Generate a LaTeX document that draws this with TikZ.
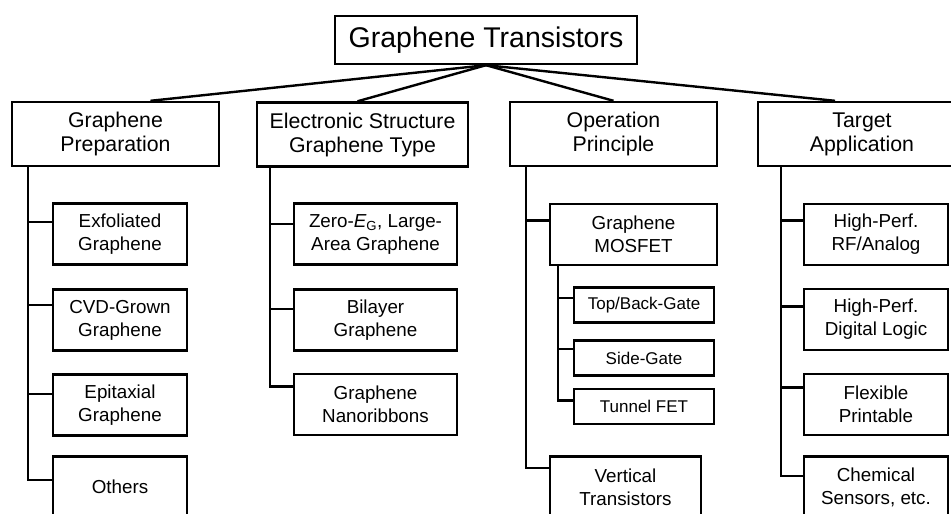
\documentclass[tikz,border=0pt]{standalone}
\usepackage{fontspec}
\setmainfont{Liberation Sans}

\begin{document}
\begin{tikzpicture}[x=1pt, y=-1pt,
  box/.style={draw, line width=2.4pt, align=center, inner sep=0pt},
  topbox/.style={box, minimum width=302pt, minimum height=48pt, font=\fontsize{28.5}{32}\selectfont},
  catbox/.style={box, minimum height=64pt, font=\fontsize{21.3}{24}\selectfont},
  itembox/.style={box, minimum height=61pt, font=\fontsize{18.8}{23}\selectfont},
  subbox/.style={box, minimum height=35pt, font=\fontsize{17}{18}\selectfont},
  link/.style={line width=2.4pt}]
\clip (0,0) rectangle (951,514);

% root and the four categories
\node[topbox] (root) at (486,40) {Graphene Transistors};
\node[catbox, minimum width=207pt] (prep) at (115.5,134) {Graphene\\Preparation};
\node[catbox, minimum width=211pt] (elec) at (362.5,134.5) {Electronic Structure\\Graphene Type};
\node[catbox, minimum width=207pt] (oper) at (613.5,134) {Operation\\Principle};
\node[catbox, minimum width=208pt] (targ) at (862,134) {Target\\Application};

% preparation
\node[itembox, minimum width=134pt] (exf) at (120,234) {Exfoliated\\Graphene};
\node[itembox, minimum width=134pt] (cvd) at (120,320) {CVD-Grown\\Graphene};
\node[itembox, minimum width=134pt] (epi) at (120,405) {Epitaxial\\Graphene};
\node[itembox, minimum width=134pt] (oth) at (120,487) {Others};

% graphene type
\node[itembox, minimum width=163pt] (zero) at (375.5,234) {Zero-{\itshape E}\textsubscript{G}, Large-\\Area Graphene};
\node[itembox, minimum width=163pt] (bil) at (375.5,320) {Bilayer\\Graphene};
\node[itembox, minimum width=163pt] (gnr) at (375.5,404.5) {Graphene\\Nanoribbons};

% operation principle
\node[itembox, minimum width=167pt] (mos) at (633.5,234.5) {Graphene\\MOSFET};
\node[subbox, minimum width=140pt] (tbg) at (644,305) {Top/Back-Gate};
\node[subbox, minimum width=140pt] (sg) at (644,358) {Side-Gate};
\node[subbox, minimum width=140pt] (tfet) at (644,406.5) {Tunnel FET};
\node[itembox, minimum width=151pt] (vert) at (625.5,487) {Vertical\\Transistors};

% applications
\node[itembox, minimum width=144pt] (rf) at (876,234.5) {High-Perf.\\RF/Analog};
\node[itembox, minimum width=144pt] (dig) at (876,319.5) {High-Perf.\\Digital Logic};
\node[itembox, minimum width=144pt] (flex) at (876,404.5) {Flexible\\Printable};
\node[itembox, minimum width=144pt] (chem) at (876,487) {Chemical\\Sensors, etc.};

% root to categories
\draw[link] (root.south) -- ([xshift=35pt]prep.north);
\draw[link] (root.south) -- ([xshift=-5pt]elec.north);
\draw[link] (root.south) -- (oper.north);
\draw[link] (root.south) -- ([xshift=-27pt]targ.north);

% category trunks
\foreach \n/\d in {exf/12, cvd/15, epi/11, oth/7}
  \draw[link] ([xshift=17pt]prep.south west) |- ([yshift=\d pt]\n.west);
\foreach \n/\d in {zero/10, bil/11, gnr/18}
  \draw[link] ([xshift=14pt]elec.south west) |- ([yshift=\d pt]\n.west);
\foreach \n/\d in {mos/14, vert/19}
  \draw[link] ([xshift=17pt]oper.south west) |- ([yshift=\d pt]\n.west);
\foreach \n/\d in {tbg/7, sg/9, tfet/6}
  \draw[link] ([xshift=9pt]mos.south west) |- ([yshift=\d pt]\n.west);
\foreach \n/\d in {rf/14, dig/13, flex/17, chem/11}
  \draw[link] ([xshift=24pt]targ.south west) |- ([yshift=\d pt]\n.west);
\end{tikzpicture}
\end{document}
